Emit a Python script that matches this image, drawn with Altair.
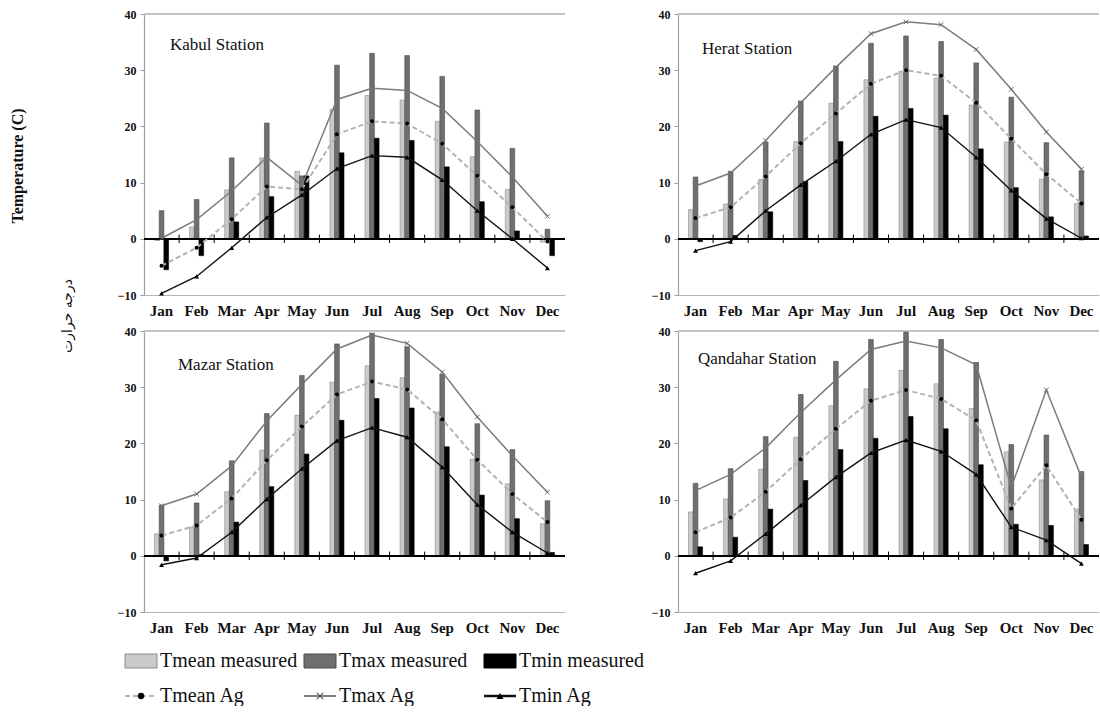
import altair as alt
import pandas as pd

months = ["Jan", "Feb", "Mar", "Apr", "May", "Jun", "Jul", "Aug", "Sep", "Oct", "Nov", "Dec"]
series_names = ["Tmean measured", "Tmax measured", "Tmin measured"]

# Kabul
kabul_tmean_meas = [-0.3, 2.1, 8.7, 14.4, 12.0, 23.0, 25.5, 24.7, 20.9, 14.6, 8.8, -0.6]
kabul_tmax_meas = [5.0, 7.0, 14.4, 20.6, 11.2, 30.9, 33.0, 32.6, 28.9, 22.9, 16.1, 1.7]
kabul_tmin_meas = [-5.5, -3.0, 3.0, 7.5, 11.2, 15.3, 17.9, 17.5, 12.8, 6.6, 1.4, -3.0]
kabul_tmean_ag = [-4.8, -1.6, 3.5, 9.3, 8.8, 18.6, 20.9, 20.5, 16.9, 11.2, 5.6, -0.5]
kabul_tmax_ag = [0.1, 3.4, 8.5, 14.5, 9.5, 24.8, 26.8, 26.4, 23.2, 17.3, 11.0, 4.0]
kabul_tmin_ag = [-9.7, -6.7, -1.6, 3.8, 7.8, 12.5, 14.8, 14.5, 10.5, 5.0, 0.0, -5.2]

# Herat
herat_tmean_meas = [5.2, 6.2, 10.6, 17.3, 24.1, 28.3, 29.8, 28.6, 23.8, 17.2, 10.6, 6.3]
herat_tmax_meas = [11.0, 12.0, 17.2, 24.5, 30.7, 34.8, 36.1, 35.1, 31.3, 25.2, 17.1, 12.1]
herat_tmin_meas = [-0.5, 0.6, 4.8, 10.2, 17.3, 21.8, 23.2, 22.0, 16.0, 9.1, 3.9, 0.5]
herat_tmean_ag = [3.7, 5.6, 11.1, 17.0, 22.3, 27.6, 30.0, 29.0, 24.2, 17.8, 11.5, 6.3]
herat_tmax_ag = [9.4, 11.7, 17.5, 24.2, 30.5, 36.5, 38.6, 38.1, 33.7, 26.6, 19.0, 12.4]
herat_tmin_ag = [-2.1, -0.5, 5.0, 9.6, 13.8, 18.6, 21.2, 19.8, 14.5, 8.6, 3.6, 0.1]

# Mazar
mazar_tmean_meas = [3.9, 5.1, 11.4, 18.8, 25.0, 30.9, 33.8, 31.7, 25.6, 17.2, 12.8, 5.7]
mazar_tmax_meas = [9.0, 9.4, 16.9, 25.3, 32.1, 37.7, 39.6, 37.2, 32.3, 23.5, 18.9, 9.8]
mazar_tmin_meas = [-0.9, 0.2, 6.0, 12.3, 18.1, 24.1, 28.0, 26.3, 19.4, 10.8, 6.6, 0.6]
mazar_tmean_ag = [3.6, 5.4, 10.2, 17.0, 23.0, 28.7, 31.0, 29.6, 24.3, 17.1, 11.0, 6.0]
mazar_tmax_ag = [8.9, 11.0, 16.0, 24.0, 30.5, 36.8, 39.3, 37.8, 32.7, 24.7, 17.8, 11.3]
mazar_tmin_ag = [-1.6, -0.4, 4.2, 10.1, 15.5, 20.5, 22.8, 21.1, 15.8, 9.1, 4.2, 0.5]

# Qandahar
qandahar_tmean_meas = [7.8, 10.1, 15.4, 21.1, 26.7, 29.7, 33.0, 30.6, 26.2, 18.5, 13.5, 8.3]
qandahar_tmax_meas = [12.9, 15.5, 21.2, 28.7, 34.6, 38.5, 39.8, 38.5, 34.4, 19.8, 21.5, 15.0]
qandahar_tmin_meas = [1.6, 3.3, 8.3, 13.4, 18.9, 20.9, 24.8, 22.6, 16.2, 5.6, 5.4, 2.0]
qandahar_tmean_ag = [4.2, 6.8, 11.4, 17.2, 22.6, 27.6, 29.5, 27.9, 24.1, 8.4, 16.1, 6.4]
qandahar_tmax_ag = [11.6, 14.5, 19.2, 25.5, 31.3, 36.7, 38.2, 37.0, 34.0, 12.2, 29.5, 14.0]
qandahar_tmin_ag = [-3.1, -0.9, 3.9, 9.0, 14.0, 18.3, 20.6, 18.6, 14.5, 5.1, 2.8, -1.4]

SERIF = "Liberation Serif"
PANEL_W = 421
PANEL_H = 281
STEP = PANEL_W / 12
BAR_COLORS = ["#cacaca", "#6f6f6f", "#000000"]
BAR_STROKES = ["#8c8c8c", "#4a4a4a", "#000000"]
X_SHAPE = "M-1,-1L1,1M-1,1L1,-1"

# one axis definition, repeated on every layer so the layers merge cleanly
X_AXIS = alt.Axis(labelAngle=0, ticks=False, labelPadding=8, labelFont=SERIF,
                  labelFontSize=15, labelFontWeight="bold", labelColor="#111",
                  domainColor="#b5b5b5", domainWidth=1.2, grid=False, title=None)
Y_AXIS = alt.Axis(values=[-10, 0, 10, 20, 30, 40], format="d", grid=False,
                  labelFont=SERIF, labelFontSize=12, labelFontWeight="bold",
                  labelColor="#111", domainColor="#a0a0a0", domainWidth=1.2,
                  tickColor="#a0a0a0", tickSize=4, labelPadding=4, title=None)
YSCALE = alt.Scale(domain=[-10, 40], nice=False, zero=False)
XSCALE = alt.Scale(paddingInner=0.6, paddingOuter=0.3)


def xm():
    return alt.X("month:N", sort=months, scale=XSCALE, axis=X_AXIS)


def yf(field):
    return alt.Y(field, scale=YSCALE, axis=Y_AXIS)


def yd(value):
    return alt.YDatum(value, scale=YSCALE, axis=Y_AXIS)


def text_layer(label, x, y, angle=0, size=17, weight="normal", font=SERIF, align="left"):
    return alt.Chart(pd.DataFrame({"t": [label]})).mark_text(
        align=align, baseline="middle", font=font, fontSize=size, fontWeight=weight,
        angle=angle, color="#111").encode(x=alt.value(x), y=alt.value(y), text="t:N")


def panel(label, tmean_m, tmax_m, tmin_m, tmean_ag, tmax_ag, tmin_ag,
          label_pos, extras=None):
    bars = pd.DataFrame({
        "month": months * 3,
        "series": [s for s in series_names for _ in months],
        "value": tmean_m + tmax_m + tmin_m,
    })
    lines = pd.DataFrame({
        "month": months,
        "tmean_ag": tmean_ag,
        "tmax_ag": tmax_ag,
        "tmin_ag": tmin_ag,
    })

    bar_layer = alt.Chart(bars).mark_bar(strokeWidth=0.6).encode(
        x=xm(),
        xOffset=alt.XOffset("series:N", sort=series_names,
                            scale=alt.Scale(paddingInner=0, paddingOuter=0)),
        y=yf("value:Q"),
        y2=alt.datum(0),
        color=alt.Color("series:N", sort=series_names, legend=None,
                        scale=alt.Scale(domain=series_names, range=BAR_COLORS)),
        stroke=alt.Stroke("series:N", sort=series_names, legend=None,
                          scale=alt.Scale(domain=series_names, range=BAR_STROKES)),
    )

    top_rule = alt.Chart(lines).mark_rule(color="#c4c4c4", strokeWidth=1.2).encode(
        y=yd(40))
    zero_rule = alt.Chart(lines).mark_rule(color="#000000", strokeWidth=1.3).encode(
        y=yd(0))
    # small ticks on the zero line, halfway between neighbouring months
    tick_rules = alt.Chart(pd.DataFrame({"month": months[1:]})).mark_rule(
        color="#000000", strokeWidth=1, xOffset=-STEP / 2).encode(
        x=xm(), y=yd(-0.75), y2=alt.datum(0.75))

    base = alt.Chart(lines).encode(x=xm())
    tmean_line = base.mark_line(color="#b3b3b3", strokeWidth=2, strokeDash=[5, 3]).encode(
        y=yf("tmean_ag:Q"))
    tmean_pts = base.mark_point(shape="circle", filled=True, color="#000000", size=16,
                                opacity=1).encode(y=yf("tmean_ag:Q"))
    tmax_line = base.mark_line(color="#7c7c7c", strokeWidth=1.5).encode(
        y=yf("tmax_ag:Q"))
    tmax_pts = base.mark_point(shape=X_SHAPE, filled=False, color="#6a6a6a", size=22,
                               strokeWidth=1, opacity=1).encode(y=yf("tmax_ag:Q"))
    tmin_line = base.mark_line(color="#111111", strokeWidth=1.4).encode(
        y=yf("tmin_ag:Q"))
    tmin_pts = base.mark_point(shape="triangle-up", filled=True, color="#000000", size=24,
                               opacity=1).encode(y=yf("tmin_ag:Q"))

    name = text_layer(label, label_pos[0], label_pos[1])

    layers = [top_rule, bar_layer, zero_rule, tick_rules, tmean_line, tmax_line, tmin_line,
              tmean_pts, tmax_pts, tmin_pts, name]
    if extras:
        layers += extras
    return alt.layer(*layers).properties(width=PANEL_W, height=PANEL_H).resolve_scale(
        color="independent", stroke="independent")


# shared y titles, placed left of the upper-left panel
side_titles = [
    text_layer("Temperature (C)", -126, 152, angle=270, size=16, weight="bold",
               align="center"),
    text_layer("درجه حرارت", -76, 302, angle=270, size=14, font="DejaVu Sans",
               align="center"),
]

# legend, placed under the lower-left panel
one = pd.DataFrame({"k": [0]})
legend_labels = ["Tmean measured", "Tmax measured", "Tmin measured",
                 "Tmean Ag", "Tmax Ag", "Tmin Ag"]
col_x = [-19, 160, 340]
sym_w = 32
row_y = [PANEL_H + 49, PANEL_H + 84]
legend_layers = []
for i in range(3):
    legend_layers.append(alt.Chart(one).mark_rect(
        color=BAR_COLORS[i], stroke=BAR_STROKES[i], strokeWidth=1).encode(
        x=alt.value(col_x[i]), x2=alt.value(col_x[i] + sym_w),
        y=alt.value(row_y[0] - 7), y2=alt.value(row_y[0] + 7)))
legend_layers.append(alt.Chart(one).mark_rule(
    color="#b3b3b3", strokeWidth=2, strokeDash=[5, 3]).encode(
    x=alt.value(col_x[0]), x2=alt.value(col_x[0] + sym_w), y=alt.value(row_y[1])))
legend_layers.append(alt.Chart(one).mark_point(
    shape="circle", filled=True, color="#000", size=40, opacity=1).encode(
    x=alt.value(col_x[0] + sym_w / 2), y=alt.value(row_y[1])))
legend_layers.append(alt.Chart(one).mark_rule(color="#7c7c7c", strokeWidth=2).encode(
    x=alt.value(col_x[1]), x2=alt.value(col_x[1] + sym_w), y=alt.value(row_y[1])))
legend_layers.append(alt.Chart(one).mark_point(
    shape=X_SHAPE, filled=False, color="#555", size=40, strokeWidth=1.2, opacity=1).encode(
    x=alt.value(col_x[1] + sym_w / 2), y=alt.value(row_y[1])))
legend_layers.append(alt.Chart(one).mark_rule(color="#111", strokeWidth=2.5).encode(
    x=alt.value(col_x[2]), x2=alt.value(col_x[2] + sym_w), y=alt.value(row_y[1])))
legend_layers.append(alt.Chart(one).mark_point(
    shape="triangle-up", filled=True, color="#000", size=50, opacity=1).encode(
    x=alt.value(col_x[2] + sym_w / 2), y=alt.value(row_y[1])))
for j, lab in enumerate(legend_labels):
    r, c = divmod(j, 3)
    legend_layers.append(text_layer(lab, col_x[c] + sym_w + 3, row_y[r], size=20))

kabul = panel("Kabul Station", kabul_tmean_meas, kabul_tmax_meas, kabul_tmin_meas,
              kabul_tmean_ag, kabul_tmax_ag, kabul_tmin_ag, (26, 31), extras=side_titles)
herat = panel("Herat Station", herat_tmean_meas, herat_tmax_meas, herat_tmin_meas,
              herat_tmean_ag, herat_tmax_ag, herat_tmin_ag, (24, 35))
mazar = panel("Mazar Station", mazar_tmean_meas, mazar_tmax_meas, mazar_tmin_meas,
              mazar_tmean_ag, mazar_tmax_ag, mazar_tmin_ag, (34, 34), extras=legend_layers)
qandahar = panel("Qandahar Station", qandahar_tmean_meas, qandahar_tmax_meas,
                 qandahar_tmin_meas, qandahar_tmean_ag, qandahar_tmax_ag, qandahar_tmin_ag,
                 (20, 28))

chart = alt.concat(
    kabul, herat, mazar, qandahar, columns=2,
    spacing={"row": 36, "column": 113}, bounds="flush",
).properties(
    padding={"left": 10, "top": 8, "right": 0, "bottom": 0},
    background="white",
).configure_view(strokeWidth=0)

chart.save("out.html", embed_options={"renderer": "svg", "actions": False})
